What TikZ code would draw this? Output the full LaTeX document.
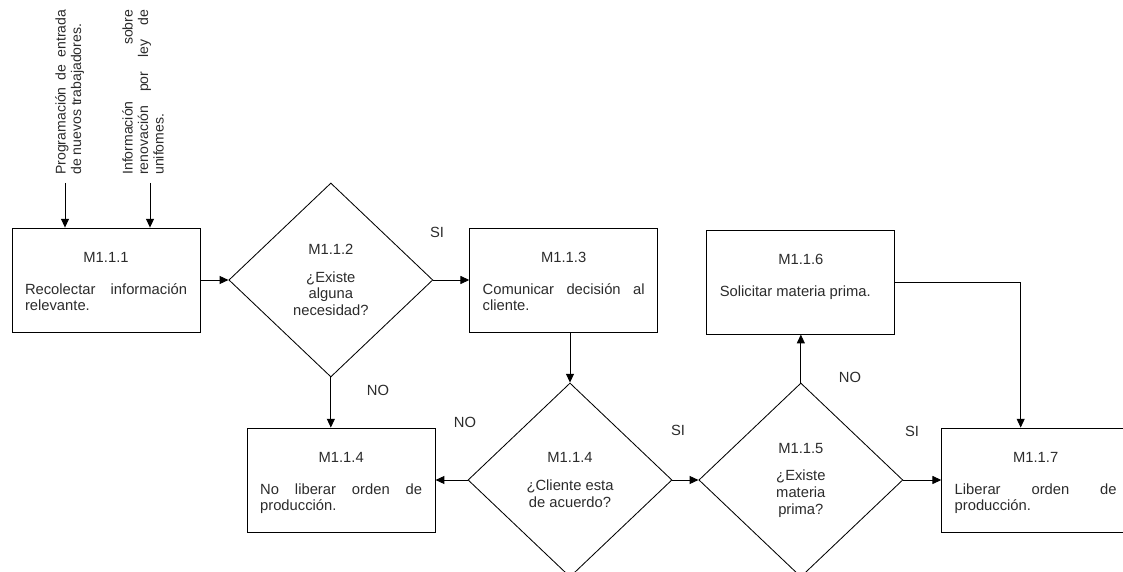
\documentclass[tikz,border=0pt]{standalone}
\usepackage{fontspec}
\setmainfont{Liberation Sans}
\usepackage{tikz}
\usetikzlibrary{positioning}
\usetikzlibrary{arrows.meta}
\usetikzlibrary{shapes.geometric}
\definecolor{texto}{HTML}{2b2b2b}
\tikzset {
  node distance={7mm},
  % cajas de actividad
  caja/.style = {draw, rectangle, line width=0.6pt, minimum width=47mm, minimum height=26mm,
    inner sep=0pt, font=\fontsize{10.5}{11.8}\selectfont, text=texto},
  % rombos de decision
  decision/.style = {draw, diamond, line width=0.6pt, minimum width=51mm, minimum height=48.5mm,
    inner sep=0pt, align=center, font=\fontsize{10.5}{11.8}\selectfont, text=texto},
  % entradas escritas en vertical
  entrada/.style={rotate=90, anchor=west, text width=41.25mm, align=justify, inner sep=0pt,
    font=\fontsize{10}{11}\selectfont, text=texto},
  % etiquetas SI / NO
  etiq/.style={inner sep=0pt, font=\fontsize{10.5}{11.8}\selectfont, text=texto},
  flecha/.style={->, line width=0.6pt},
  >={Triangle[length=2.2mm, width=2mm]},
}
\newcommand{\act}[2]{%
  \parbox[c][14mm][t]{40.5mm}{{\centering #1\par}\vspace{11pt}#2}}

\begin{document}
\begin{tikzpicture}
  \useasboundingbox (0,0) rectangle (280.75mm,-143mm);

  \node[caja] (m111) at (26.5mm,-70mm) {\act{M1.1.1}{Recolectar información\linebreak relevante.}};
  \node[decision, right=of m111] (d112) {M1.1.2\\[8pt]¿Existe\\alguna\\necesidad?};
  \node[caja, right=9mm of d112] (m113) {\act{M1.1.3}{Comunicar decisión al\linebreak cliente.}};

  \node[decision] (d114) at (142.5mm,-120mm) {M1.1.4\\[8pt]¿Cliente esta\\de acuerdo?};
  \node[caja, left=8mm of d114] (m114) {\act{M1.1.4}{No liberar orden de\linebreak producción.}};
  \node[decision, right=6.5mm of d114] (d115) {M1.1.5\\[8pt]¿Existe\\materia\\prima?};
  \node[caja, above=12mm of d115] (m116) {\act{M1.1.6}{Solicitar materia prima.}};
  \node[caja, right=9.5mm of d115] (m117) {\act{M1.1.7}{Liberar orden de\linebreak producción.}};

  % entradas
  \node[entrada] (prog) at (17.4mm,-43.75mm) {Programación de entrada\linebreak de nuevos trabajadores.};
  \node[entrada] (info) at (35.75mm,-43.75mm) {Información sobre\linebreak renovación por ley de\linebreak unifomes.};
  \coordinate (e1) at (16.25mm,-45.75mm);
  \coordinate (e2) at (37.5mm,-45.75mm);
  \draw[flecha] (e1) -- (e1 |- m111.north);
  \draw[flecha] (e2) -- (e2 |- m111.north);

  \draw[flecha] (m111) -- (d112);
  \draw[flecha] (d112) -- (m113);
  \draw[flecha] (d112.south) -- (d112.south |- m114.north);
  \draw[flecha] (d114.north |- m113.south) -- (d114.north);
  \draw[flecha] (d114) -- (m114);
  \draw[flecha] (d114) -- (d115);
  \draw[flecha] (d115.north) -- (m116.south);
  \draw[flecha] (d115) -- (m117);
  \draw[flecha] (m116.east) -| ([xshift=-3.75mm]m117.north);

  \node[etiq] (si1) at (109.25mm,-58mm) {SI};
  \node[etiq] (no1) at (94.5mm,-97.5mm) {NO};
  \node[etiq] (no2) at (116.25mm,-105.5mm) {NO};
  \node[etiq] (si2) at (169.5mm,-107.5mm) {SI};
  \node[etiq] (no3) at (212.5mm,-94.25mm) {NO};
  \node[etiq] (si3) at (228mm,-107.75mm) {SI};
\end{tikzpicture}
\end{document}
